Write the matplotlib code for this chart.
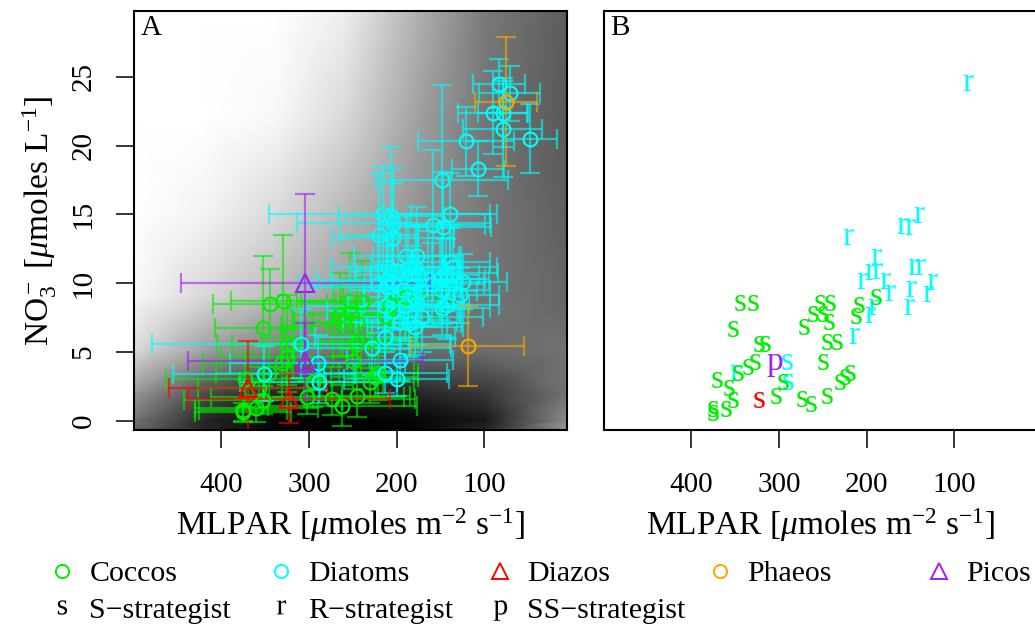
import matplotlib

matplotlib.use("Agg")
import matplotlib.pyplot as plt
import numpy as np
from matplotlib.font_manager import FontProperties
from matplotlib.lines import Line2D
from matplotlib.path import Path
from matplotlib.textpath import TextPath

plt.rcParams["font.family"] = ["Liberation Serif", "DejaVu Serif"]
plt.rcParams["mathtext.fontset"] = "custom"
plt.rcParams["mathtext.rm"] = "Liberation Serif"
plt.rcParams["mathtext.it"] = "Liberation Serif:italic"
plt.rcParams["mathtext.bf"] = "Liberation Serif:bold"

# ---- panel A: group means with error bars (MLPAR, NO3) ----
coccos_x = [344, 329, 352, 253, 239, 264, 253, 272, 261, 245, 325, 318, 245, 231, 331, 325, 250, 373,
            230, 221, 225, 352, 302, 274, 262, 245, 375, 360, 357, 346, 295, 189, 208, 212, 375]
coccos_y = [8.5, 8.7, 6.7, 8.7, 8.6, 7.7, 7.8, 6.9, 7.2, 7.1, 5.6, 5.6, 5.6, 5.8, 4.2, 4.6, 4.3, 3.0,
            2.8, 3.5, 3.2, 1.5, 1.7, 1.6, 1.1, 1.8, 0.8, 0.9, 2.4, 3.5, 2.8, 9.0, 8.4, 7.6, 0.6]
coccos_xerr = [65, 60, 55, 60, 70, 55, 50, 60, 55, 50, 80, 70, 60, 55, 90, 75, 70, 90,
               50, 45, 50, 90, 110, 95, 85, 60, 50, 70, 70, 60, 80, 50, 55, 60, 55]
coccos_yerr = [2.5, 4.8, 5.3, 3.5, 3.0, 3.0, 2.5, 3.0, 2.5, 3.0, 3.5, 2.5, 2.5, 2.0, 2.5, 2.0, 2.0, 2.0,
               1.5, 2.0, 1.5, 1.0, 1.2, 1.2, 1.5, 1.5, 0.8, 1.0, 1.5, 2.0, 1.8, 3.0, 2.5, 2.5, 0.7]

diatoms_x = [83, 71, 90, 79, 79, 48, 121, 107, 148, 215, 206, 204, 139, 159, 147, 220, 204, 189, 177, 210,
             198, 187, 179, 176, 139, 136, 144, 150, 124, 164, 211, 204, 193, 182, 173, 160, 148, 128, 143,
             213, 204, 190, 177, 148, 171, 196, 186, 179, 213, 228, 196, 213, 200, 309, 290, 289, 351, 221, 211]
diatoms_y = [24.5, 23.8, 22.4, 22.4, 21.2, 20.5, 20.3, 18.3, 17.5, 15.0, 14.9, 14.4, 15.0, 14.2, 14.1, 13.5,
             13.3, 12.0, 12.0, 11.2, 10.9, 11.0, 11.2, 10.6, 11.5, 11.2, 10.7, 10.3, 10.1, 10.3, 10.2, 10.1,
             9.5, 9.7, 9.4, 9.9, 9.5, 9.1, 8.4, 8.3, 8.0, 8.3, 8.5, 8.2, 7.5, 7.2, 7.1, 6.8, 6.1, 5.3, 4.4,
             3.5, 3.0, 5.6, 4.2, 2.8, 3.4, 9.9, 9.7]
diatoms_xerr = [30, 35, 40, 28, 45, 31, 55, 30, 75, 130, 60, 110, 45, 60, 55, 45, 70, 60, 50, 65,
                55, 60, 50, 70, 45, 50, 60, 55, 50, 65, 80, 70, 60, 55, 65, 60, 55, 45, 60,
                90, 75, 65, 60, 55, 70, 65, 60, 55, 80, 90, 60, 70, 60, 170, 100, 90, 104, 90, 85]
diatoms_yerr = [1.8, 2.0, 3.0, 2.5, 3.5, 2.5, 2.5, 2.0, 6.9, 3.5, 5.0, 4.0, 3.0, 5.5, 4.0, 4.5,
                4.0, 3.0, 3.5, 3.0, 3.5, 4.0, 3.0, 3.5, 2.5, 3.0, 2.5, 3.0, 2.0, 3.5, 3.0, 3.5,
                2.5, 3.0, 2.5, 3.0, 2.5, 2.0, 2.5, 3.0, 2.5, 2.5, 3.0, 2.0, 2.5, 2.0, 2.5, 2.0, 2.5, 2.0, 1.5,
                1.5, 1.2, 2.5, 2.0, 1.5, 2.0, 3.5, 3.0]

diazos_x = [369, 323]
diazos_y = [2.4, 1.6]
diazos_xerr = [90, 115]
diazos_yerr = [3.4, 1.8]

phaeos_x = [75, 119]
phaeos_y = [23.2, 5.4]
phaeos_xerr = [35, 64]
phaeos_yerr = [4.7, 2.9]

picos_x = [304, 304]
picos_y = [10.0, 4.3]
picos_xerr = [142, 134]
picos_yerr = [6.5, 2.8]

# ---- panel B: strategist classification ----
strat_x = [84, 140, 160, 151, 221, 189, 196, 188, 147, 139, 205, 179, 126, 173, 149, 130, 152, 193, 196,
           215, 350, 291, 290,
           189, 208, 212, 253, 242, 261, 250, 243, 271, 245, 233, 250, 219, 225, 230, 245, 274, 263,
           344, 329, 352, 323, 316, 335, 327, 295, 303, 346, 370, 357, 352, 360, 375, 375,
           305, 323]
strat_y = [24.6, 15.0, 14.2, 14.1, 13.4, 11.9, 10.8, 10.9, 11.2, 11.2, 10.2, 10.2, 10.1, 9.3, 9.6, 9.2,
           8.3, 8.3, 7.7, 6.2, 3.5, 4.3, 2.8,
           9.0, 8.4, 7.6, 8.6, 8.6, 7.8, 7.8, 7.2, 6.8, 5.7, 5.7, 4.3, 3.5, 3.2, 2.8, 1.8, 1.6, 1.2,
           8.6, 8.6, 6.7, 5.6, 5.6, 3.9, 4.3, 2.8, 1.8, 3.5, 3.0, 2.4, 1.5, 0.9, 0.9, 0.6,
           4.3, 1.5]
strat_letter = ["r"] * 21 + ["s"] * 2 + ["s"] * 34 + ["p", "s"]
strat_group = ["Diatoms"] * 23 + ["Coccos"] * 34 + ["Picos", "Diazos"]

# ---- background surface of panel A (grey level, 1 = white) ----
bg_x = [499.4, 418, 338, 259, 179, 99, 6.0]
bg_y = [29.78, 22, 15, 9, 5, 2, 0, -0.68]
bg_gray = [
    [1.00, 1.00, 1.00, 0.93, 0.70, 0.48, 0.36],
    [1.00, 1.00, 0.97, 0.85, 0.64, 0.46, 0.35],
    [1.00, 0.95, 0.85, 0.72, 0.58, 0.47, 0.37],
    [0.97, 0.84, 0.73, 0.62, 0.53, 0.46, 0.40],
    [0.85, 0.62, 0.50, 0.45, 0.42, 0.42, 0.45],
    [0.60, 0.30, 0.15, 0.12, 0.15, 0.22, 0.45],
    [0.45, 0.15, 0.02, 0.00, 0.02, 0.10, 0.55],
    [0.40, 0.15, 0.02, 0.00, 0.03, 0.15, 0.60],
]

colors = {
    "Coccos": "#00ee00",
    "Diatoms": "#00ffff",
    "Diazos": "#ff0000",
    "Phaeos": "#ffa500",
    "Picos": "#a020f0",
}

groups = [
    ("Coccos", coccos_x, coccos_y, coccos_xerr, coccos_yerr, "o"),
    ("Diatoms", diatoms_x, diatoms_y, diatoms_xerr, diatoms_yerr, "o"),
    ("Diazos", diazos_x, diazos_y, diazos_xerr, diazos_yerr, "^"),
    ("Phaeos", phaeos_x, phaeos_y, phaeos_xerr, phaeos_yerr, "o"),
    ("Picos", picos_x, picos_y, picos_xerr, picos_yerr, "^"),
]

XLIM = (499.4, 6.0)
YLIM = (-0.68, 29.78)
TICK_FS = 21
LABEL_FS = 24
LEGEND_FS = 21.5

fig = plt.figure(figsize=(10.35, 6.25), dpi=100)
axA = fig.add_axes([0.1295, 0.312, 0.418, 0.6704])
axB = fig.add_axes([0.5836, 0.312, 0.418, 0.6704])

# panel A
X, Y = np.meshgrid(bg_x, bg_y)
axA.pcolormesh(X, Y, np.array(bg_gray), shading="gouraud", cmap="gray", vmin=0, vmax=1, zorder=0)

for name, x, y, xe, ye, m in groups:
    axA.errorbar(x, y, xerr=xe, yerr=ye, fmt="none", ecolor=colors[name], elinewidth=1.6,
                 capsize=7, capthick=1.6, alpha=0.6, zorder=2)
for name, x, y, xe, ye, m in groups:
    ms = 10 if m == "o" else 13
    axA.plot(x, y, ls="none", marker=m, mfc="none", mec=colors[name], ms=ms, mew=1.5, zorder=3)

axA.text(0.015, 0.99, "A", transform=axA.transAxes, ha="left", va="top", fontsize=TICK_FS)

# panel B
for x, y, s, g in zip(strat_x, strat_y, strat_letter, strat_group):
    axB.text(x, y, s, color=colors[g], fontsize=24, ha="center", va="center")
axB.text(0.015, 0.99, "B", transform=axB.transAxes, ha="left", va="top", fontsize=TICK_FS)

xlabel = r"MLPAR [$\mu$moles m$^{-2}$ s$^{-1}$]"
for ax in (axA, axB):
    ax.set_xlim(XLIM)
    ax.set_ylim(YLIM)
    ax.set_xticks([400, 300, 200, 100])
    ax.tick_params(axis="x", length=13, width=1.1, pad=17, labelsize=TICK_FS)
    ax.set_xlabel(xlabel, fontsize=LABEL_FS, va="center")
    ax.xaxis.set_label_coords(0.5, -0.227)
    for sp in ax.spines.values():
        sp.set_linewidth(1.5)

axA.set_yticks([0, 5, 10, 15, 20, 25])
axA.tick_params(axis="y", length=13, width=1.1, pad=14, labelsize=TICK_FS, labelrotation=90)
for lab in axA.get_yticklabels():
    lab.set_va("center")
axA.set_ylabel(r"NO$_3^-$ [$\mu$moles L$^{-1}$]", fontsize=LABEL_FS, va="center")
axA.yaxis.set_label_coords(-0.218, 0.5)

axB.tick_params(axis="y", left=False, labelleft=False)


# legend: five columns, R style
def open_marker(m, c, ms):
    return Line2D([], [], ls="none", marker=m, mfc="none", mec=c, ms=ms, mew=1.4)


_fp = FontProperties(family="Liberation Serif")
_s_box = TextPath((0, 0), "s", size=LEGEND_FS, prop=_fp).get_extents()


def letter_marker(s):
    # glyph as a path, aligned on the x-height of "s" so that "p" sits on the line
    tp = TextPath((0, 0), s, size=LEGEND_FS, prop=_fp)
    box = tp.get_extents()
    verts = tp.vertices - [(box.x0 + box.x1) / 2, (_s_box.y0 + _s_box.y1) / 2]
    path = Path(verts, tp.codes)
    ms = 2 * np.abs(verts).max()
    return Line2D([], [], ls="none", marker=path, mfc="black", mec="none", ms=ms)


legend_cols = [
    ([open_marker("o", colors["Coccos"], 9.5), letter_marker("s")], ["Coccos", "S\u2212strategist"]),
    ([open_marker("o", colors["Diatoms"], 9.5), letter_marker("r")], ["Diatoms", "R\u2212strategist"]),
    ([open_marker("^", colors["Diazos"], 12), letter_marker("p")], ["Diazos", "SS\u2212strategist"]),
    ([open_marker("o", colors["Phaeos"], 9.5)], ["Phaeos"]),
    ([open_marker("^", colors["Picos"], 12)], ["Picos"]),
]
col_x = [62, 281, 500, 720, 939]
for (handles, labels), cx in zip(legend_cols, col_x):
    anchor_y = 592 if len(handles) == 2 else 574
    fig.legend(handles, labels, loc="center left", bbox_to_anchor=((cx - 15) / 1035, 1 - anchor_y / 625),
               frameon=False, fontsize=LEGEND_FS, handlelength=1.0, handletextpad=0.42, borderpad=0,
               borderaxespad=0, labelspacing=0.33)

fig.savefig("out.png", dpi=100)
